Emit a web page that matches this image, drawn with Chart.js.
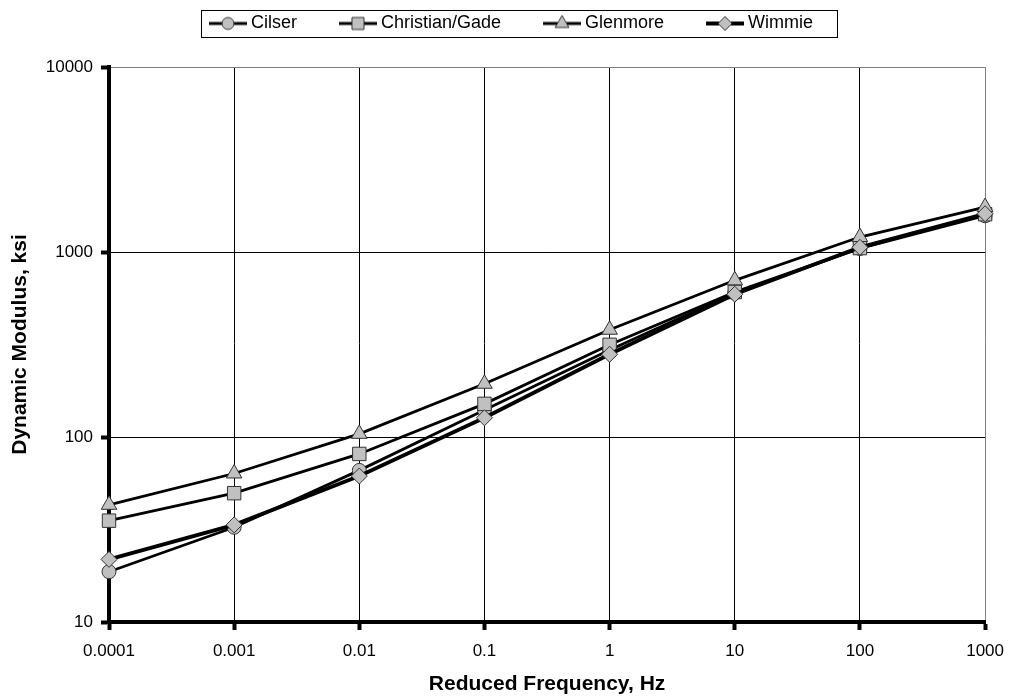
<!DOCTYPE html>
<html>
<head>
<meta charset="utf-8">
<script src="https://cdn.jsdelivr.net/npm/chart.js@4.4.0/dist/chart.umd.min.js"></script>
<style>
  html, body { margin: 0; padding: 0; background: #fff; }
</style>
</head>
<body>
<canvas id="modulusChart" width="1015" height="698"></canvas>
<script>
// reduced frequency, Hz (log axis)
const freqs = [0.0001, 0.001, 0.01, 0.1, 1, 10, 100, 1000];

// dynamic modulus, ksi
const cilser    = [18.7, 32.5, 66, 140, 295, 600, 1045, 1570];
const christian = [35.3, 49.7, 81, 151, 315, 608, 1050, 1600];
const glenmore  = [43, 63.5, 104, 194, 380, 703, 1205, 1750];
const wimmie    = [21.8, 33.5, 61.5, 127, 280, 591, 1060, 1610];

const seriesNames = ['Cilser', 'Christian/Gade', 'Glenmore', 'Wimmie'];
const seriesValues = [cilser, christian, glenmore, wimmie];

const xTicks = [0.0001, 0.001, 0.01, 0.1, 1, 10, 100, 1000];
const xTickLabels = ['0.0001', '0.001', '0.01', '0.1', '1', '10', '100', '1000'];
const yTicks = [10, 100, 1000, 10000];
const yTickLabels = ['10', '100', '1000', '10000'];

const FONT = "'Liberation Sans', Arial, Helvetica, sans-serif";
const MARKER_FILL = '#C0C0C0';
const MARKER_EDGE = '#333333';

const markerStyles = ['circle', 'rect', 'triangle', 'rectRot'];
const markerRadius = [7, 9.5, 9, 8];
const legendRadius = [6, 8.5, 8, 7];
const lineWidths = [2.8, 2.8, 2.8, 3.8];
const drawOrder = [3, 2, 1, 0];   // Wimmie drawn on top

const LEGEND_BOX = 65;   // reserved width for each legend symbol

// legend symbol: short line with the marker in the middle
function legendIcon(i) {
  const c = document.createElement('canvas');
  c.width = LEGEND_BOX + 10;
  c.height = 20;
  const ctx = c.getContext('2d');
  const x0 = c.width - 38, x1 = c.width, cy = 10;
  ctx.strokeStyle = '#000';
  ctx.lineWidth = lineWidths[i];
  ctx.beginPath();
  ctx.moveTo(x0, cy);
  ctx.lineTo(x1, cy);
  ctx.stroke();
  ctx.fillStyle = MARKER_FILL;
  ctx.strokeStyle = MARKER_EDGE;
  ctx.lineWidth = 1;
  Chart.helpers.drawPoint(ctx, {
    pointStyle: markerStyles[i],
    radius: legendRadius[i],
    rotation: 0,
    borderWidth: 1
  }, (x0 + x1) / 2, cy);
  return c;
}

const legendFrame = {
  id: 'legendFrame',
  afterDraw(chart) {
    const lg = chart.legend;
    if (!lg || !lg.legendHitBoxes || !lg.legendHitBoxes.length) return;
    const hb = lg.legendHitBoxes;
    const first = hb[0], last = hb[hb.length - 1];
    const left = Math.round(first.left + LEGEND_BOX + 5 - 38 - 8) + 0.5;
    const right = Math.round(last.left + last.width + 24) + 0.5;
    const cy = first.top + first.height / 2;
    const top = Math.round(cy - 13.5) + 0.5;
    const bottom = Math.round(cy + 13.5) + 0.5;
    const ctx = chart.ctx;
    ctx.save();
    ctx.strokeStyle = '#000';
    ctx.lineWidth = 1;
    ctx.strokeRect(left, top, right - left, bottom - top);
    ctx.restore();
  }
};

const datasets = seriesNames.map((name, i) => ({
  label: name,
  data: freqs.map((f, j) => ({ x: f, y: seriesValues[i][j] })),
  showLine: true,
  borderColor: '#000',
  borderWidth: lineWidths[i],
  tension: 0,
  pointStyle: markerStyles[i],
  pointRadius: markerRadius[i],
  pointHoverRadius: markerRadius[i],
  pointBackgroundColor: MARKER_FILL,
  pointBorderColor: MARKER_EDGE,
  pointBorderWidth: 1,
  order: drawOrder[i],
  clip: false
}));

const icons = seriesNames.map((n, i) => legendIcon(i));

new Chart(document.getElementById('modulusChart'), {
  type: 'scatter',
  data: { datasets: datasets },
  options: {
    responsive: false,
    animation: false,
    layout: { padding: { top: 4.5, right: 25, bottom: 0, left: 0 } },
    plugins: {
      tooltip: { enabled: false },
      legend: {
        position: 'top',
        weight: 3000,
        labels: {
          font: { family: FONT, size: 18 },
          color: '#000',
          padding: 10,
          usePointStyle: true,
          pointStyleWidth: LEGEND_BOX,
          generateLabels: (chart) => chart.data.datasets.map((ds, i) => ({
            text: ds.label,
            pointStyle: icons[i],
            fillStyle: 'transparent',
            strokeStyle: 'transparent',
            lineWidth: 0,
            fontColor: '#000',
            hidden: false,
            datasetIndex: i
          }))
        }
      },
      // empty subtitle used as a spacer between legend and plot
      subtitle: {
        display: true,
        text: '',
        font: { size: 10, lineHeight: 1 },
        padding: { top: 14.5, bottom: 0 }
      }
    },
    scales: {
      x: {
        type: 'logarithmic',
        position: 'bottom',
        min: 0.0001,
        max: 1000,
        afterBuildTicks: (s) => { s.ticks = xTicks.map(v => ({ value: v })); },
        afterFit: (s) => { s.height = 76; },
        ticks: {
          font: { family: FONT, size: 17 },
          color: '#000',
          padding: 11,
          maxRotation: 0,
          autoSkip: false,
          callback: (v) => xTickLabels[xTicks.indexOf(v)]
        },
        grid: {
          color: (c) => (c.tick && c.tick.value === 1000) ? '#808080' : '#000',
          lineWidth: 1,
          drawTicks: true,
          tickLength: 8,
          tickWidth: 4,
          tickColor: '#000'
        },
        border: { display: true, color: '#000', width: 4 },
        title: {
          display: true,
          text: 'Reduced Frequency, Hz',
          color: '#000',
          font: { family: FONT, size: 21, weight: 'bold', lineHeight: 1.2 },
          padding: { top: 0, bottom: 1.4 }
        }
      },
      y: {
        type: 'logarithmic',
        position: 'left',
        min: 10,
        max: 10000,
        afterBuildTicks: (s) => { s.ticks = yTicks.map(v => ({ value: v })); },
        afterFit: (s) => { s.width = 109; },
        ticks: {
          font: { family: FONT, size: 17 },
          color: '#000',
          padding: 8,
          autoSkip: false,
          callback: (v) => yTickLabels[yTicks.indexOf(v)]
        },
        grid: {
          color: (c) => (c.tick && c.tick.value === 10000) ? '#808080' : '#000',
          lineWidth: 1,
          drawTicks: true,
          tickLength: 8,
          tickWidth: 4,
          tickColor: '#000'
        },
        border: { display: true, color: '#000', width: 4 },
        title: {
          display: true,
          text: 'Dynamic Modulus, ksi',
          color: '#000',
          font: { family: FONT, size: 21, weight: 'bold', lineHeight: 1.2 },
          padding: { top: 7.4, bottom: 0 }
        }
      }
    }
  },
  plugins: [legendFrame]
});
</script>
</body>
</html>
